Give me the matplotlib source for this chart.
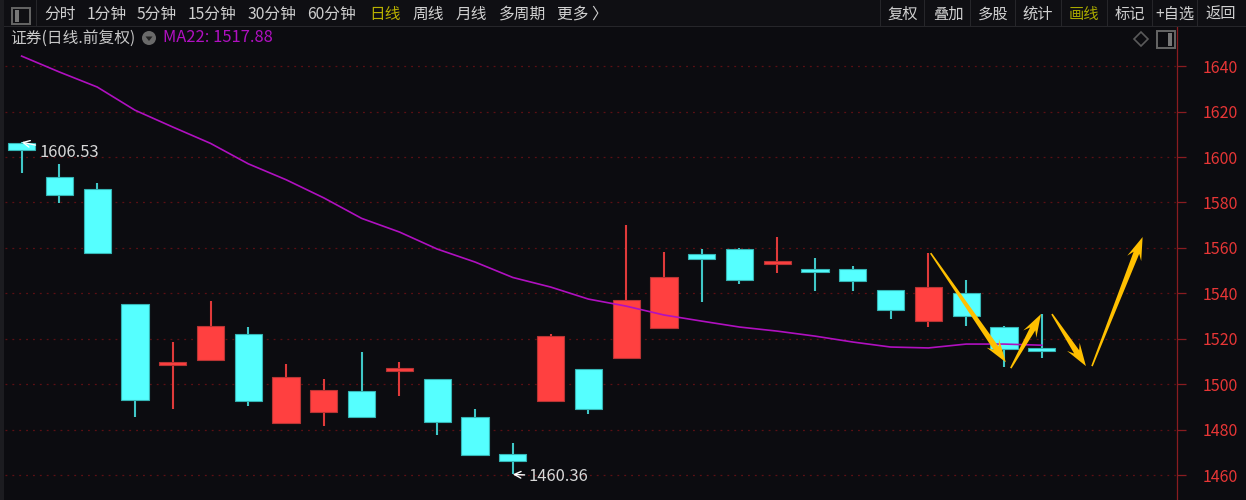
import matplotlib
matplotlib.use("Agg")
import matplotlib.pyplot as plt
import numpy as np
from matplotlib.patches import Rectangle, Circle, Polygon

plt.rcParams['font.family'] = ['Noto Sans CJK SC', 'DejaVu Sans']

# Daily candles
opens = [1606.1, 1591.2, 1585.9, 1535.3, 1508.7, 1510.7, 1522.1, 1483.0, 1487.8, 1497.0,
         1506.0, 1502.3, 1485.6, 1469.3, 1492.6, 1506.7, 1511.6, 1524.7, 1557.3, 1559.5,
         1552.9, 1550.3, 1550.7, 1541.5, 1527.8, 1540.1, 1525.2, 1516.0]
closes = [1603.0, 1583.3, 1557.7, 1493.1, 1509.3, 1525.6, 1492.6, 1503.2, 1497.5, 1485.6,
          1506.9, 1483.4, 1468.9, 1466.2, 1521.2, 1489.1, 1537.1, 1547.2, 1555.1, 1545.9,
          1553.8, 1549.4, 1545.4, 1532.7, 1542.8, 1530.0, 1515.5, 1514.6]
highs = [1606.53, 1596.9, 1588.5, 1535.3, 1518.6, 1536.6, 1525.2, 1508.9, 1502.3, 1514.2,
         1509.8, 1502.3, 1489.1, 1474.2, 1522.1, 1506.7, 1570.1, 1558.2, 1559.5, 1559.9,
         1564.8, 1555.5, 1552.0, 1541.5, 1557.7, 1545.9, 1525.6, 1530.9]
lows = [1592.9, 1579.7, 1557.7, 1485.6, 1489.1, 1510.7, 1490.4, 1482.5, 1481.6, 1485.2,
        1494.8, 1477.7, 1468.9, 1460.36, 1492.2, 1486.9, 1511.6, 1524.7, 1536.2, 1544.1,
        1548.9, 1541.0, 1541.0, 1528.7, 1525.2, 1525.6, 1507.6, 1511.6]
ma22 = [1644.4, 1637.4, 1630.8, 1620.6, 1613.2, 1606.0, 1597.0, 1590.0, 1582.0, 1573.0,
        1567.0, 1559.5, 1553.8, 1547.0, 1542.8, 1537.5, 1534.4, 1530.5, 1527.8, 1525.2,
        1523.4, 1521.2, 1518.6, 1516.4, 1516.0, 1517.7, 1517.7, 1517.2]
y_ticks = [1460, 1480, 1500, 1520, 1540, 1560, 1580, 1600, 1620, 1640]

# Hand drawn yellow arrows: (start candle, start price, end candle, end price)
arrows = [(24.06, 1557.7, 26.05, 1509.7),
          (26.18, 1507.1, 26.98, 1530.9),
          (27.27, 1530.9, 28.17, 1508.0),
          (28.33, 1508.0, 29.67, 1564.8)]

left_tools = [("分时", 44), ("1分钟", 87), ("5分钟", 137), ("15分钟", 188), ("30分钟", 248),
              ("60分钟", 307), ("日线", 369), ("周线", 412), ("月线", 456), ("多周期", 499), ("更多 〉", 557)]
right_tools = [("复权", 903), ("叠加", 948), ("多股", 993), ("统计", 1038), ("画线", 1084),
               ("标记", 1130), ("+自选", 1175), ("返回", 1221)]
separators = [880, 924, 970, 1015, 1061, 1107, 1152, 1197]

W, H = 1246, 500
BG = "#0c0c10"
RED = "#ff4040"
CYAN = "#55ffff"
GOLD = "#ffc000"


def fx(px):
    return px / W


def fy(py):
    return 1 - py / H


def taper_arrow(ax, x0, y0, x1, y1):
    # thin tail widening to a barbed head, drawn in pixels between two data points
    a, b = ax.transData.transform([(x0, y0), (x1, y1)])
    along = (b - a) / np.hypot(*(b - a))
    side = np.array([-along[1], along[0]])
    neck = b - along * 17
    barb = b - along * 23
    pts = [a - side * 0.8, neck - side * 3, barb - side * 7.5, b,
           barb + side * 7.5, neck + side * 3, a + side * 0.8]
    ax.add_artist(Polygon(pts, closed=True, transform=None, facecolor=GOLD, edgecolor="none", zorder=5))


fig = plt.figure(figsize=(12.46, 5), dpi=100, facecolor=BG)
ax = fig.add_axes([fx(5), 0, fx(1172), fy(27)], facecolor=BG)

# one candle every 37.78 px, 2.2733 px per point of price
ax.set_xlim(-0.44, 30.58)
ax.set_ylim(1449.1, 1657.2)

ax.grid(axis="y", color="#5c1014", linestyle=(0, (1.5, 4)), linewidth=0.9)
ax.set_axisbelow(True)

for i in range(len(opens)):
    up = closes[i] >= opens[i]
    body = RED if up else CYAN
    edge = "#b83434" if up else "#35b5b5"
    ax.vlines(i, lows[i], highs[i], color="#e03a3a" if up else "#40c8c8", linewidth=1.5, zorder=2)
    ax.bar(i, max(abs(closes[i] - opens[i]), 1.2), bottom=min(opens[i], closes[i]), width=0.72,
           color=body, edgecolor=edge, linewidth=0.8, zorder=3)

ax.plot(range(len(ma22)), ma22, color="#b010c0", linewidth=1.2, zorder=4)

for x0, y0, x1, y1 in arrows:
    taper_arrow(ax, x0, y0, x1, y1)

# high and low markers
ax.annotate("1606.53", xy=(0, max(highs)), xytext=(18, -10), textcoords="offset pixels", color="#d8d8d8",
            fontsize=11.9, va="center", zorder=6,
            arrowprops=dict(arrowstyle="->", color="white", linewidth=1, shrinkA=1, shrinkB=0))
ax.annotate("1460.36", xy=(13, min(lows)), xytext=(16, -2), textcoords="offset pixels", color="#d8d8d8",
            fontsize=11.9, va="center", zorder=6,
            arrowprops=dict(arrowstyle="->", color="white", linewidth=1, shrinkA=1, shrinkB=0))

ax.set_xticks([])
ax.set_yticks(y_ticks)
ax.yaxis.tick_right()
ax.tick_params(axis="y", colors="#8a1c20", length=6.5, width=0.9, pad=12, labelcolor="#e83636", labelsize=11.5)
for name in ["left", "top", "bottom"]:
    ax.spines[name].set_visible(False)
ax.spines["right"].set_color("#8a1c20")
ax.spines["right"].set_linewidth(0.9)

# toolbar
fig.add_artist(Rectangle((0, fy(26)), 1, 26 / H, transform=fig.transFigure, facecolor="#0f0f13", edgecolor="none"))
fig.add_artist(Rectangle((0, fy(26.5)), 1, 1 / H, transform=fig.transFigure, facecolor="#26262a", edgecolor="none"))
fig.add_artist(Rectangle((0, 0), fx(4), 1, transform=fig.transFigure, facecolor="#1c1c20", edgecolor="none"))
fig.add_artist(Rectangle((fx(12), fy(24)), fx(18), 16 / H, transform=fig.transFigure, facecolor="none",
                         edgecolor="#666666", linewidth=1.4))
fig.add_artist(Rectangle((fx(15), fy(22)), fx(4), 12 / H, transform=fig.transFigure, facecolor="#777777",
                         edgecolor="none"))
for px in separators + [36]:
    fig.add_artist(Rectangle((fx(px), fy(26)), 1 / W, 26 / H, transform=fig.transFigure, facecolor="#26262a",
                             edgecolor="none"))

for label, px in left_tools:
    fig.text(fx(px), fy(14), label, color="#b8b000" if label == "日线" else "#d0d0d0", fontsize=11.3,
             va="center", ha="left")
for label, px in right_tools:
    fig.text(fx(px), fy(14), label, color="#a8a800" if label == "画线" else "#d0d0d0", fontsize=11,
             va="center", ha="center")

# header line
fig.text(fx(10), fy(38), "证券(日线.前复权)", color="#c8c8c8", fontsize=11.3, va="center")
fig.text(fx(163), fy(38), "MA22: 1517.88", color="#b010c0", fontsize=11.9, va="center")
fig.add_artist(Circle((149, H - 38), 7, transform=None, facecolor="#6a6a6a", edgecolor="none"))
fig.add_artist(Polygon([[145.5, H - 36.5], [152.5, H - 36.5], [149, H - 41]], closed=True, transform=None,
                       facecolor="#222222", edgecolor="none"))

# diamond and panel icons, top right
fig.add_artist(Polygon([[1141, H - 32], [1148, H - 39], [1141, H - 46], [1134, H - 39]], closed=True,
                       transform=None, facecolor="none", edgecolor="#5a5a5a", linewidth=1.2))
fig.add_artist(Rectangle((1157, H - 48), 18, 17, transform=None, facecolor="none", edgecolor="#666666",
                         linewidth=1.4))
fig.add_artist(Rectangle((1168, H - 46), 4, 13, transform=None, facecolor="#777777", edgecolor="none"))

fig.savefig("out.png", dpi=100, facecolor=BG)
